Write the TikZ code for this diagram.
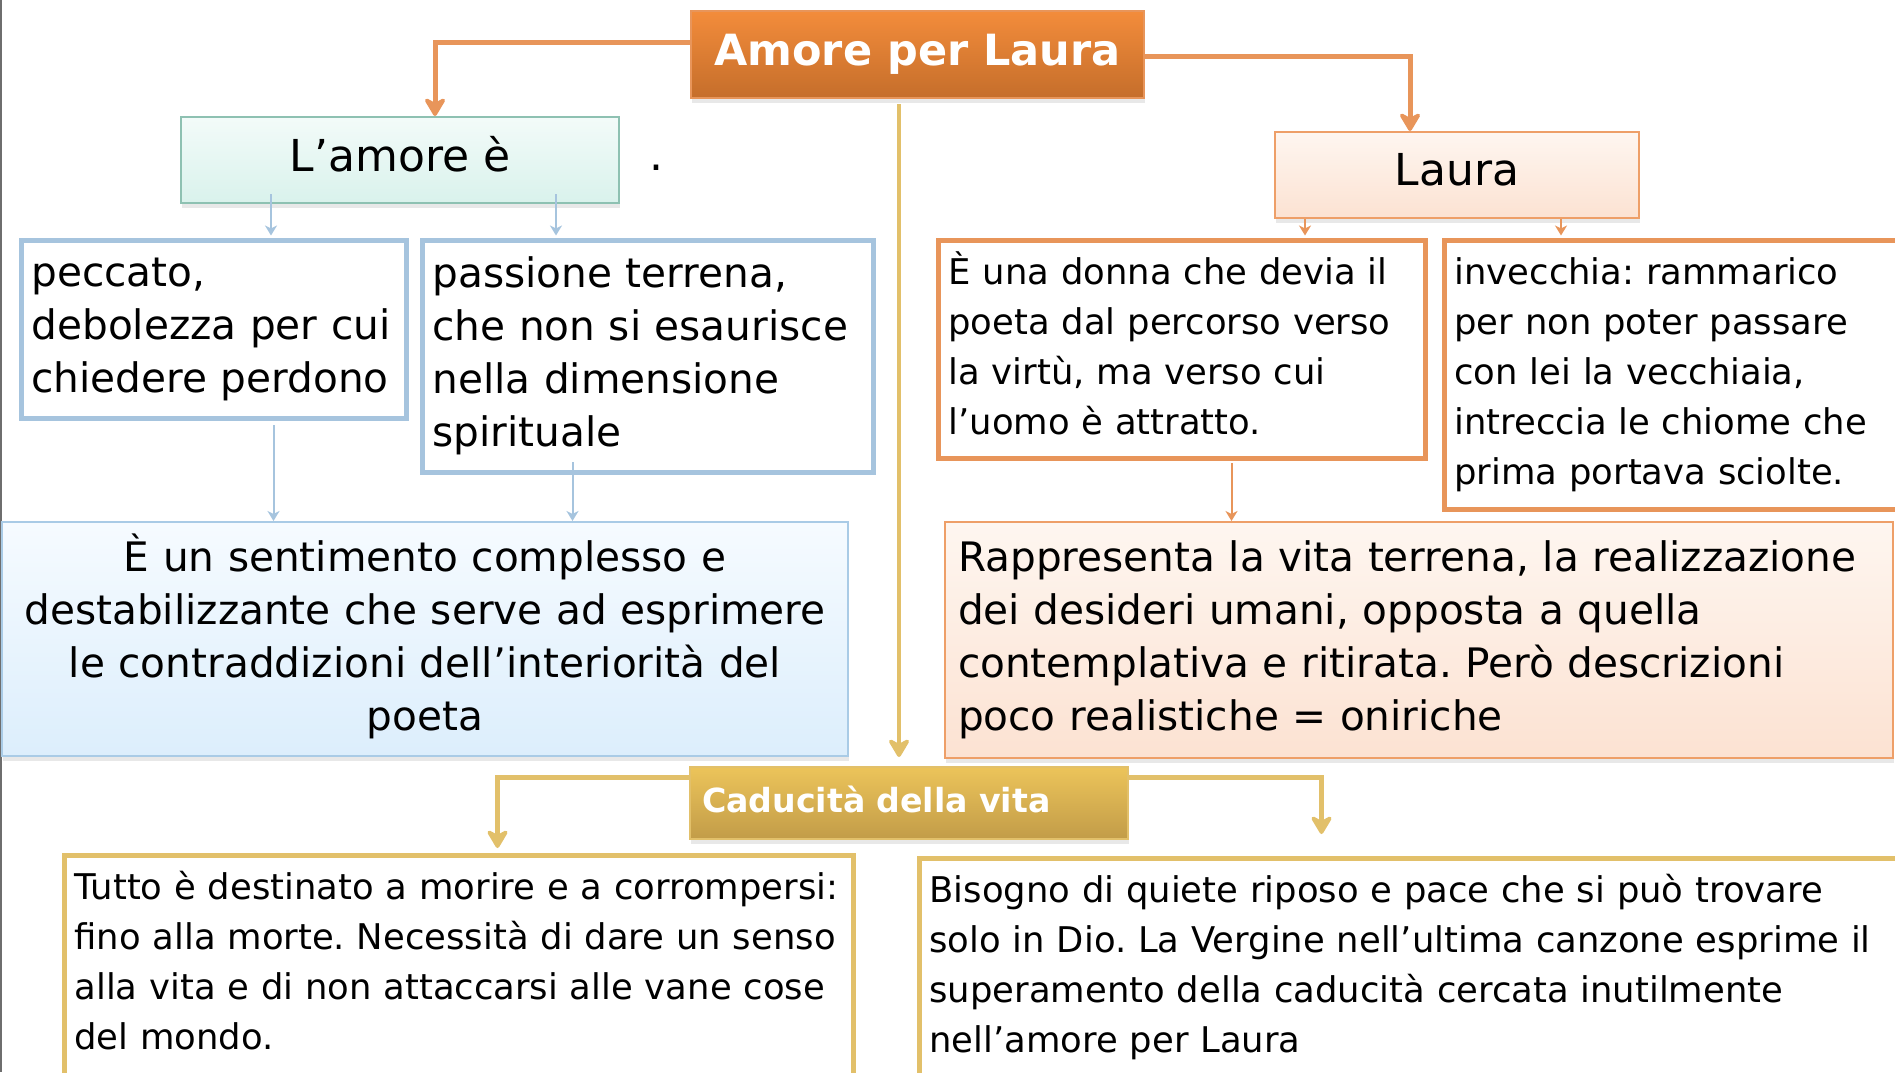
\documentclass[tikz,border=0pt]{standalone}
\usepackage{fontspec}
\setmainfont{DejaVu Sans}
\usetikzlibrary{arrows.meta,shadows,calc}
\frenchspacing

\definecolor{orline}{HTML}{E8955A}
\definecolor{ortop}{HTML}{F38C3B}
\definecolor{orbot}{HTML}{C56E2B}
\definecolor{mintop}{HTML}{F3FBF9}
\definecolor{minbot}{HTML}{D9F2EC}
\definecolor{minline}{HTML}{8EC1B2}
\definecolor{bluline}{HTML}{A6C4DE}
\definecolor{blutop}{HTML}{F6FBFF}
\definecolor{blubot}{HTML}{DCEEFC}
\definecolor{bluedge}{HTML}{A9CBE6}
\definecolor{pchtop}{HTML}{FEF6F0}
\definecolor{pchbot}{HTML}{FCE2D2}
\definecolor{pchline}{HTML}{EE9F68}
\definecolor{gldtop}{HTML}{ECC45A}
\definecolor{gldbot}{HTML}{C29C48}
\definecolor{gldline}{HTML}{E2C06A}
\definecolor{edgegray}{HTML}{6E6E6E}

\newcommand{\lift}[1]{\rule[-#1]{0pt}{#1}}

\tikzset{
  bigtip/.style={-{Stealth[length=11pt,width=13pt,inset=3.5pt,round]}},
  smalltip/.style={-{Stealth[length=5pt,width=6pt,inset=1.5pt]}},
  oconn/.style={draw=orline,line width=2.5pt,bigtip},
  gconn/.style={draw=gldline,line width=2.5pt,bigtip},
  bconn/.style={draw=bluline,line width=1pt,smalltip},
  othin/.style={draw=orline,line width=1pt,smalltip},
  softshadow/.style={drop shadow={opacity=0.18,shadow xshift=0.5pt,shadow yshift=-2.5pt}},
  titlebox/.style={anchor=north west,inner sep=0pt,softshadow},
  textbox/.style={anchor=north west,fill=white,inner xsep=5.25pt,inner ysep=0pt,align=left,line width=2.5pt},
  bigtext/.style={font=\fontsize{20.3}{26.5}\selectfont},
  smalltext/.style={font=\fontsize{17.7}{25}\selectfont},
}

\begin{document}
\begin{tikzpicture}[x=0.5pt,y=-0.5pt]
\useasboundingbox (0,0) rectangle (1895,1072);

% left edge line
\draw[edgegray,line width=1pt] (1,0) -- (1,1072);

% title
\node[titlebox,top color=ortop,bottom color=orbot,draw=orline,line width=1pt,
      minimum width=226.5pt,minimum height=43.5pt,
      text=white,font=\bfseries\fontsize{21.5}{26}\selectfont] (amore) at (690,10) {Amore per Laura};

% L'amore
\node[titlebox,top color=mintop,bottom color=minbot,draw=minline,line width=1pt,
      minimum width=219pt,minimum height=43pt,font=\fontsize{22}{26}\selectfont] (lamore) at (180,116) {L’amore è\lift{6pt}};
\node[anchor=base,inner sep=0pt,font=\fontsize{22}{26}\selectfont] (dot) at (656,170) {.};

% Laura
\node[titlebox,top color=pchtop,bottom color=pchbot,draw=pchline,line width=1pt,
      minimum width=182pt,minimum height=43pt,font=\fontsize{22}{26}\selectfont] (laura) at (1274,131) {Laura\lift{6pt}};

% blue text boxes
\node[textbox,bigtext,draw=bluline,minimum width=192.5pt,minimum height=89pt,text width=182pt] (peccato) at (18.5,237.5)
  {\mbox{peccato,}\\\mbox{debolezza per cui}\\\mbox{chiedere perdono}};
\node[textbox,bigtext,draw=bluline,minimum width=225.5pt,minimum height=116pt,text width=215pt] (passione) at (419.5,237.5)
  {\mbox{passione terrena,}\\\mbox{che non si esaurisce}\\\mbox{nella dimensione}\\\mbox{spirituale}};

% sentimento
\node[anchor=north west,inner xsep=6.5pt,inner ysep=0pt,align=center,bigtext,
      top color=blutop,bottom color=blubot,draw=bluedge,line width=1pt,softshadow,
      minimum width=423pt,minimum height=117pt,text width=410pt] (sentimento) at (1,521)
  {\mbox{È un sentimento complesso e}\\\mbox{destabilizzante che serve ad esprimere}\\\mbox{le contraddizioni dell’interiorità del}\\\mbox{poeta\lift{7.2pt}}};

% orange text boxes
\node[textbox,smalltext,draw=orline,minimum width=243.5pt,minimum height=109pt,text width=233pt] (donna) at (935.5,237.5)
  {\mbox{È una donna che devia il}\\\mbox{poeta dal percorso verso}\\\mbox{la virtù, ma verso cui}\\\mbox{l’uomo è attratto.\lift{5.6pt}}};
\node[textbox,smalltext,draw=orline,minimum width=230.5pt,minimum height=134.5pt,text width=220pt] (invecchia) at (1441.5,237.5)
  {\mbox{invecchia: rammarico}\\\mbox{per non poter passare}\\\mbox{con lei la vecchiaia,}\\\mbox{intreccia le chiome che}\\\mbox{prima portava sciolte.}};

% rappresenta
\node[anchor=north west,inner xsep=6.5pt,inner ysep=0pt,align=left,bigtext,
      top color=pchtop,bottom color=pchbot,draw=pchline,line width=1pt,softshadow,
      minimum width=474pt,minimum height=118pt,text width=461pt] (rappresenta) at (944,521)
  {\mbox{Rappresenta la vita terrena, la realizzazione}\\\mbox{dei desideri umani, opposta a quella}\\\mbox{contemplativa e ritirata. Però descrizioni}\\\mbox{poco realistiche = oniriche}};

% caducita
\node[anchor=north west,inner xsep=6pt,inner ysep=0pt,align=left,softshadow,
      top color=gldtop,bottom color=gldbot,draw=gldline,line width=1pt,
      minimum width=219pt,minimum height=36pt,text width=207pt,
      text=white,font=\bfseries\fontsize{16.6}{20}\selectfont] (caducita) at (689,766) {Caducità della vita\lift{3.6pt}};

% gold text boxes
\node[textbox,smalltext,draw=gldline,minimum width=394.5pt,minimum height=110.5pt,text width=384pt] (tutto) at (61.5,852.5)
  {\mbox{Tutto è destinato a morire e a corrompersi:}\\\mbox{fino alla morte. Necessità di dare un senso}\\\mbox{alla vita e di non attaccarsi alle vane cose}\\\mbox{del mondo.\lift{4.8pt}}};
\node[textbox,smalltext,draw=gldline,minimum width=493pt,minimum height=109pt,text width=482.5pt] (bisogno) at (916.5,855.5)
  {\mbox{Bisogno di quiete riposo e pace che si può trovare}\\\mbox{solo in Dio. La Vergine nell’ultima canzone esprime il}\\\mbox{superamento della caducità cercata inutilmente}\\\mbox{nell’amore per Laura}};

% connectors
\draw[oconn] ([yshift=6.25pt]amore.west) -| ([xshift=17.5pt]lamore.north);
\draw[oconn] ([yshift=-0.75pt]amore.east) -| ([xshift=-23.5pt]laura.north);
\draw[draw=gldline,line width=2pt,bigtip] ([xshift=-9.25pt,yshift=-2.5pt]amore.south) -- ([xshift=-9.25pt,yshift=4.5pt]amore.south |- caducita.north);

\draw[bconn] ([xshift=-64.5pt,yshift=5pt]lamore.south) -- ([xshift=-64.5pt,yshift=1pt]lamore.south |- peccato.north);
\draw[bconn] ([xshift=78pt,yshift=5pt]lamore.south) -- ([xshift=78pt,yshift=1pt]lamore.south |- passione.north);
\draw[bconn] ([xshift=30pt,yshift=-2.25pt]peccato.south) -- ([xshift=30pt]peccato.south |- sentimento.north);
\draw[bconn] ([xshift=-37.5pt,yshift=6.25pt]passione.south) -- ([xshift=-37.5pt]passione.south |- sentimento.north);

\draw[othin] ([xshift=-76pt]laura.south) -- ([xshift=-76pt,yshift=1pt]laura.south |- donna.north);
\draw[othin] ([xshift=52pt]laura.south) -- ([xshift=52pt,yshift=1pt]laura.south |- invecchia.north);
\draw[othin] ([xshift=25pt,yshift=-1.25pt]donna.south) -- ([xshift=25pt]donna.south |- rappresenta.north);

\draw[gconn] ([yshift=13pt]caducita.west) -| ([xshift=19.5pt,yshift=2.25pt]tutto.north);
\draw[gconn] ([yshift=13pt]caducita.east) -| ([xshift=-45.25pt,yshift=10.75pt]bisogno.north);
\end{tikzpicture}
\end{document}
